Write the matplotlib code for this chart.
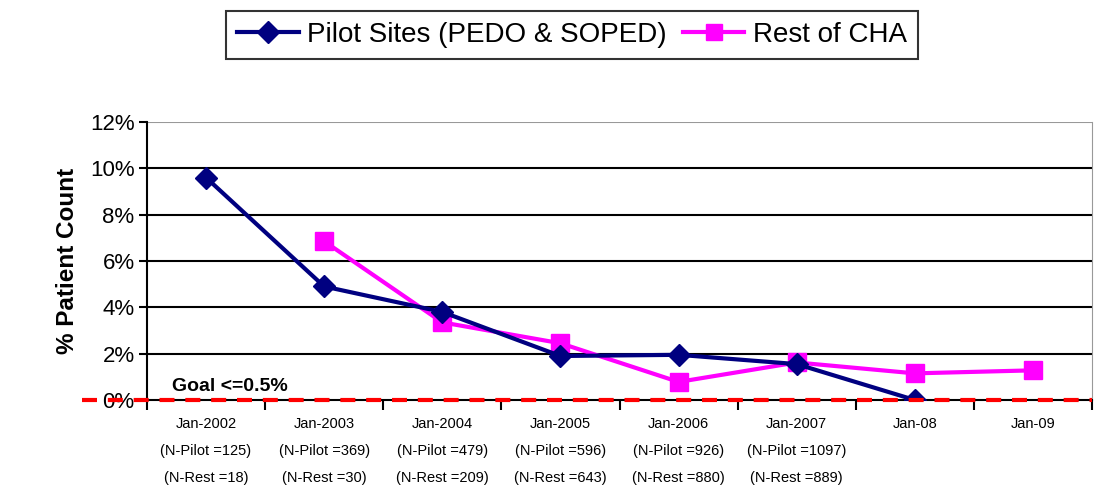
import numpy as np
import matplotlib
matplotlib.use("Agg")
import matplotlib.pyplot as plt
from matplotlib.lines import Line2D
from matplotlib.transforms import blended_transform_factory

plt.rcParams['font.family'] = ['Liberation Sans', 'DejaVu Sans']

years = ["Jan-2002", "Jan-2003", "Jan-2004", "Jan-2005", "Jan-2006", "Jan-2007", "Jan-08", "Jan-09"]
n_pilot = ["125", "369", "479", "596", "926", "1097", None, None]
n_rest = ["18", "30", "209", "643", "880", "889", None, None]
pilot = [9.6, 4.9, 3.8, 1.9, 1.95, 1.55, 0.0, np.nan]
rest = [np.nan, 6.85, 3.35, 2.45, 0.78, 1.62, 1.15, 1.28]

labels = []
for y, p, r in zip(years, n_pilot, n_rest):
    if p is None:
        labels.append(y + "\n\n")
    else:
        labels.append("%s\n(N-Pilot =%s)\n(N-Rest =%s)" % (y, p, r))

fig = plt.figure(figsize=(10.94, 4.95), dpi=100)
ax = fig.add_axes([147 / 1094, 1 - 400 / 495, 945 / 1094, 278 / 495])

x = np.arange(len(years))
ax.plot(x, pilot, color='#000080', lw=3, marker='D', ms=11, zorder=4)
ax.plot(x, rest, color='#FF00FF', lw=3, marker='s', ms=13, zorder=3)

ax.set_xlim(-0.5, len(years) - 0.5)
ax.set_ylim(0, 12)
ax.set_yticks(range(0, 13, 2))
ax.set_yticklabels(["%d%%" % v for v in range(0, 13, 2)], fontsize=16)
for v in range(2, 12, 2):
    ax.axhline(v, color='black', lw=1.5, zorder=1)
ax.axhline(12, color='#999999', lw=1.5, zorder=1)

ax.set_xticks(x)
ax.set_xticklabels(labels, fontsize=10.5, linespacing=2.2)
ax.set_xticks(np.arange(-0.5, len(years), 1), minor=True)
ax.tick_params(axis='x', which='major', length=0, pad=12)
ax.tick_params(axis='x', which='minor', length=7, width=1.5, direction='out')
ax.tick_params(axis='y', length=6, width=1.5, direction='out', pad=3)

ax.spines['top'].set_visible(False)
ax.spines['right'].set_color('#999999')
ax.spines['left'].set_linewidth(1.5)
ax.spines['bottom'].set_linewidth(1.5)

ax.set_ylabel("% Patient Count", fontsize=17.5, fontweight='bold', labelpad=8)

# goal line extends out past the y axis
goal = Line2D([82 / 1094, 1092 / 1094], [1 - 400 / 495, 1 - 400 / 495], transform=fig.transFigure,
              color='red', lw=3, dashes=(3.6, 2.6), zorder=5)
fig.add_artist(goal)
tr = blended_transform_factory(ax.transAxes, ax.transData)
ax.text(0.026, 0.2, "Goal <=0.5%", transform=tr, fontsize=14, fontweight='bold', va='bottom', ha='left')

handles = [Line2D([], [], color='#000080', lw=3, marker='D', ms=11),
           Line2D([], [], color='#FF00FF', lw=3, marker='s', ms=12)]
leg = fig.legend(handles, ["Pilot Sites (PEDO & SOPED)", "Rest of CHA"], loc='center',
                 bbox_to_anchor=(572 / 1094, 1 - 35 / 495), ncol=2, fontsize=20, frameon=True,
                 fancybox=False, edgecolor='black', handlelength=2.2, handletextpad=0.3,
                 columnspacing=0.6, borderpad=0.4)
leg.get_frame().set_linewidth(1.5)

fig.savefig("out.png", dpi=100)
